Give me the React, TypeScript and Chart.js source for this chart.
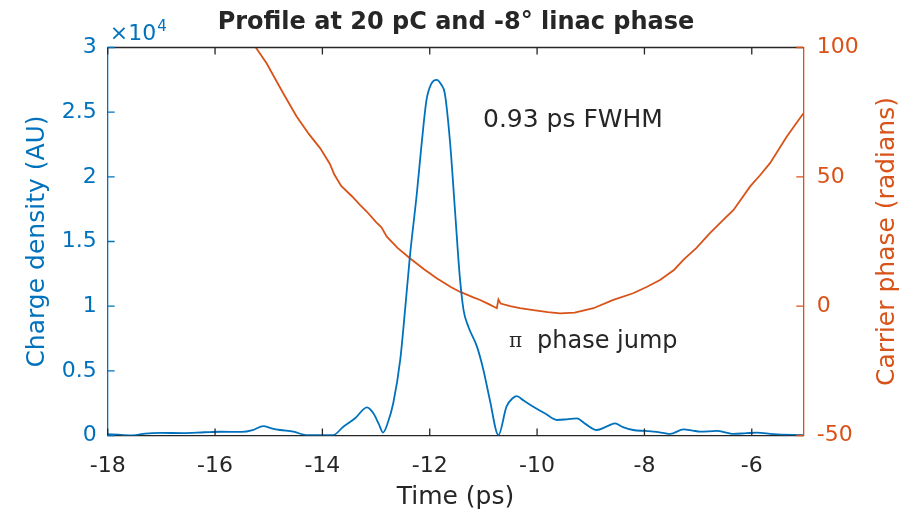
import React, { useEffect, useRef } from 'react';
import { Chart, registerables } from 'chart.js';

Chart.register(...registerables);

// ---- data ----
const timeCharge = [
  -18.0, -17.8, -17.53, -17.3, -17.0, -16.6, -16.2, -15.9, -15.5, -15.3, -15.1, -14.95, -14.79, -14.54, -14.3,
  -14.0, -13.8, -13.61, -13.39, -13.17, -13.05, -12.95, -12.87, -12.78, -12.68, -12.55, -12.46, -12.37, -12.24,
  -12.15, -12.06, -11.97, -11.87, -11.78, -11.72, -11.62, -11.53, -11.44, -11.37, -11.28, -11.12, -11.0, -10.88,
  -10.72, -10.57, -10.45, -10.38, -10.25, -10.07, -9.85, -9.63, -9.45, -9.26, -9.1, -8.89, -8.7, -8.55, -8.4,
  -8.21, -8.0, -7.83, -7.65, -7.52, -7.27, -7.1, -6.96, -6.65, -6.45, -6.34, -6.1, -5.91, -5.6, -5.04,
];
const chargeDensity = [
  100, 60, 0, 150, 200, 190, 250, 290, 280, 420, 730, 560, 425, 300, 30,
  20, 30, 680, 1330, 2180, 1720, 900, 230, 1000, 2490, 5840, 9700, 13830, 18730,
  22600, 25950, 27200, 27500, 27100, 26470, 22600, 17440, 12280, 9700, 8410, 6870, 5070, 2750,
  30, 2230, 2900, 3050, 2700, 2230, 1700, 1200, 1250, 1330, 900, 425, 700, 940, 650,
  425, 350, 300, 200, 120, 480, 380, 300, 350, 200, 120, 180, 220, 100, 30,
];
const timePhase = [
  -15.24, -15.04, -14.73, -14.48, -14.25, -14.04, -13.86, -13.78, -13.65, -13.45, -13.3, -13.17, -13.0, -12.9,
  -12.8, -12.6, -12.37, -12.1, -11.87, -11.6, -11.44, -11.2, -11.06, -10.9, -10.75, -10.72, -10.68, -10.5,
  -10.32, -10.07, -9.8, -9.57, -9.3, -8.95, -8.58, -8.21, -7.95, -7.71, -7.45, -7.27, -7.03, -6.78, -6.55,
  -6.34, -6.03, -5.85, -5.66, -5.35, -5.04,
];
const carrierPhase = [
  100, 93.9, 82.3, 73.3, 66.5, 61.0, 55.0, 51.0, 46.5, 42.5, 39.2, 36.5, 32.5, 30.5,
  26.9, 22.5, 18.5, 14.2, 10.8, 7.3, 5.6, 3.5, 2.4, 0.8, -0.8, 2.6, 1.0, 0.0,
  -0.8, -1.5, -2.3, -2.8, -2.5, -0.8, 2.4, 5.0, 7.5, 10.1, 14.0, 18.0, 22.5, 28.2, 33.0,
  37.2, 46.3, 50.5, 55.3, 65.5, 74.5,
];
const xTicks = [-18, -16, -14, -12, -10, -8, -6];
const leftTicks = [0, 5000, 10000, 15000, 20000, 25000, 30000];
const rightTicks = [-50, 0, 50, 100];

const titleText = 'Profile at 20 pC and -8° linac phase';
const xLabel = 'Time (ps)';
const leftLabel = 'Charge density (AU)';
const rightLabel = 'Carrier phase (radians)';
const fwhmText = '0.93 ps FWHM';
const jumpText = 'phase jump';

const BLUE = '#0072BD';
const ORANGE = '#D95319';
const DARK = '#262626';
const FAMILY = "'DejaVu Sans', sans-serif";
const TL = 7;

const decor = {
  id: 'decor',
  afterDraw(chart: any) {
    const { ctx, chartArea: ca, scales } = chart;
    const xs = scales.x, ys = scales.y, yr = scales.y1;
    ctx.save();
    ctx.lineWidth = 1.3;
    // top box line and x ticks
    ctx.strokeStyle = DARK;
    ctx.beginPath();
    ctx.moveTo(ca.left, ca.top);
    ctx.lineTo(ca.right, ca.top);
    for (const v of xTicks) {
      const p = xs.getPixelForValue(v);
      ctx.moveTo(p, ca.bottom);
      ctx.lineTo(p, ca.bottom - TL);
      ctx.moveTo(p, ca.top);
      ctx.lineTo(p, ca.top + TL);
    }
    ctx.stroke();
    // left ticks
    ctx.strokeStyle = BLUE;
    ctx.beginPath();
    for (const v of leftTicks) {
      const p = ys.getPixelForValue(v);
      ctx.moveTo(ca.left, p);
      ctx.lineTo(ca.left + TL, p);
    }
    ctx.stroke();
    // right ticks
    ctx.strokeStyle = ORANGE;
    ctx.beginPath();
    for (const v of rightTicks) {
      const p = yr.getPixelForValue(v);
      ctx.moveTo(ca.right, p);
      ctx.lineTo(ca.right - TL, p);
    }
    ctx.stroke();

    // x10^4 multiplier
    ctx.fillStyle = BLUE;
    ctx.textAlign = 'left';
    ctx.textBaseline = 'alphabetic';
    ctx.font = `22px ${FAMILY}`;
    ctx.fillText('×10', ca.left + 2, ca.top - 8);
    const w = ctx.measureText('×10').width;
    ctx.font = `15px ${FAMILY}`;
    ctx.fillText('4', ca.left + 2 + w + 1, ca.top - 17);

    // right axis title (reads bottom to top)
    ctx.save();
    ctx.fillStyle = ORANGE;
    ctx.font = `25px ${FAMILY}`;
    ctx.textAlign = 'center';
    ctx.textBaseline = 'middle';
    ctx.translate(887, (ca.top + ca.bottom) / 2);
    ctx.rotate(-Math.PI / 2);
    ctx.fillText(rightLabel, 0, 0);
    ctx.restore();

    // annotations
    ctx.fillStyle = DARK;
    ctx.textAlign = 'left';
    ctx.textBaseline = 'alphabetic';
    ctx.font = `25px ${FAMILY}`;
    ctx.fillText(fwhmText, 483, 127);
    ctx.font = `20px 'DejaVu Serif', serif`;
    ctx.fillText('π', 509, 347);
    ctx.font = `24px ${FAMILY}`;
    ctx.fillText(jumpText, 537, 348);
    ctx.restore();
  },
};

export default function App() {
  const ref = useRef<HTMLCanvasElement | null>(null);

  useEffect(() => {
    document.body.style.margin = '0';
    const canvas = ref.current;
    if (!canvas) return;
    const chart = new Chart(canvas, {
      type: 'line',
      data: {
        datasets: [
          {
            label: leftLabel,
            data: timeCharge.map((t, i) => ({ x: t, y: chargeDensity[i] })),
            borderColor: BLUE,
            borderWidth: 1.8,
            pointRadius: 0,
            cubicInterpolationMode: 'monotone',
            yAxisID: 'y',
            xAxisID: 'x',
          },
          {
            label: rightLabel,
            data: timePhase.map((t, i) => ({ x: t, y: carrierPhase[i] })),
            borderColor: ORANGE,
            borderWidth: 1.8,
            pointRadius: 0,
            tension: 0,
            yAxisID: 'y1',
            xAxisID: 'x',
          },
        ],
      },
      options: {
        animation: false,
        responsive: false,
        maintainAspectRatio: false,
        layout: { padding: 0 },
        plugins: {
          legend: { display: false },
          tooltip: { enabled: false },
          title: {
            display: true,
            text: titleText,
            color: DARK,
            font: { family: FAMILY, size: 24, weight: 'bold' },
            padding: { top: 8.6, bottom: 10.1 },
          },
        },
        scales: {
          x: {
            type: 'linear',
            position: 'bottom',
            min: -18,
            max: -5.04,
            afterBuildTicks: (s: any) => {
              s.ticks = xTicks.map((v) => ({ value: v }));
            },
            afterFit: (s: any) => {
              s.height = 80.5;
            },
            grid: { display: false, drawTicks: false },
            border: { display: true, color: DARK, width: 1.3 },
            ticks: {
              color: DARK,
              font: { family: FAMILY, size: 22 },
              padding: 18,
              maxRotation: 0,
              autoSkip: false,
              callback: (v: any) => String(v),
            },
            title: {
              display: true,
              text: xLabel,
              color: DARK,
              font: { family: FAMILY, size: 25 },
              padding: { top: 0, bottom: 4 },
            },
          },
          y: {
            type: 'linear',
            position: 'left',
            min: 0,
            max: 30000,
            afterBuildTicks: (s: any) => {
              s.ticks = leftTicks.map((v) => ({ value: v }));
            },
            afterFit: (s: any) => {
              s.width = 107.7;
            },
            grid: { display: false, drawTicks: false },
            border: { display: true, color: BLUE, width: 1.3 },
            ticks: {
              color: BLUE,
              font: { family: FAMILY, size: 22 },
              padding: 11,
              callback: (v: any) => String(v / 10000),
            },
            title: {
              display: true,
              text: leftLabel,
              color: BLUE,
              font: { family: FAMILY, size: 25 },
              padding: { top: 22, bottom: 0 },
            },
          },
          y1: {
            type: 'linear',
            position: 'right',
            min: -50,
            max: 100,
            afterBuildTicks: (s: any) => {
              s.ticks = rightTicks.map((v) => ({ value: v }));
            },
            afterFit: (s: any) => {
              s.width = 108.7;
            },
            grid: { display: false, drawTicks: false, drawOnChartArea: false },
            border: { display: true, color: ORANGE, width: 1.3 },
            ticks: {
              color: ORANGE,
              font: { family: FAMILY, size: 22 },
              padding: 13.4,
              callback: (v: any) => String(v),
            },
          },
        },
      },
      plugins: [decor],
    } as any);
    return () => chart.destroy();
  }, []);

  return (
    <div style={{ position: 'absolute', left: 0, top: 0, width: 912, height: 516, background: '#fff' }}>
      <canvas ref={ref} width={912} height={516} style={{ width: 912, height: 516, display: 'block' }} />
    </div>
  );
}
